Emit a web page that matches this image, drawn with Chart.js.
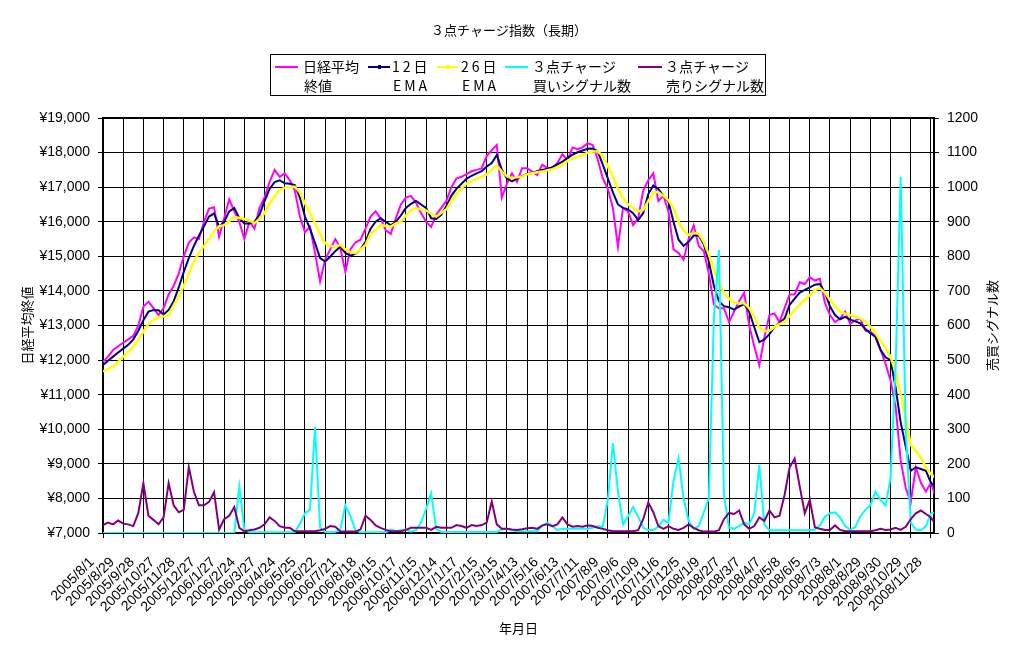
<!DOCTYPE html>
<html><head><meta charset="utf-8">
<script src="https://cdn.jsdelivr.net/npm/chart.js@4.4.1/dist/chart.umd.min.js"></script>
<style>html,body{margin:0;padding:0;background:#fff;}#wrap{width:1019px;height:655px;}</style>
</head><body><div id="wrap"><canvas id="c" width="1019" height="655"></canvas></div>
<script>
const chartTitle = '３点チャージ指数（長期）';
const leftAxisTitle = '日経平均終値';
const rightAxisTitle = '売買シグナル数';
const xAxisTitle = '年月日';
const seriesNames = [['日経平均','終値'],['12日','EMA'],['26日','EMA'],['３点チャージ','買いシグナル数'],['３点チャージ','売りシグナル数']];
const dateLabels = ['2005/8/1','2005/8/29','2005/9/28','2005/10/27','2005/11/28','2005/12/27','2006/1/27','2006/2/24','2006/3/27','2006/4/24','2006/5/25','2006/6/22','2006/7/21','2006/8/18','2006/9/15','2006/10/17','2006/11/15','2006/12/14','2007/1/17','2007/2/15','2007/3/15','2007/4/13','2007/5/16','2007/6/13','2007/7/11','2007/8/9','2007/9/6','2007/10/9','2007/11/6','2007/12/5','2008/1/9','2008/2/7','2008/3/7','2008/4/7','2008/5/8','2008/6/5','2008/7/3','2008/8/1','2008/8/29','2008/9/30','2008/10/29','2008/11/28'];
const LABEL_EVERY = 20;   // trading days between date labels
const STEP = 5;           // trading days between stored samples
const LAST_DAY = 823;

const nikkei = [11950,12100,12290,12400,12500,12600,12700,13000,13545,13690,
 13500,13300,13500,13900,14150,14500,15000,15400,15550,15500,
 16000,16380,16420,15570,16100,16650,16300,16000,15500,16000,
 15800,16400,16700,17150,17500,17300,17400,17200,16900,16150,
 15700,15850,15100,14270,14900,15200,15500,15250,14550,15200,
 15400,15480,15800,16150,16300,16100,15750,15650,16100,16500,
 16700,16750,16550,16250,16000,15850,16200,16400,16600,17000,
 17250,17300,17380,17460,17500,17540,17900,18070,18220,16700,
 17100,17400,17150,17550,17550,17450,17350,17650,17550,17550,
 17700,17950,17780,18150,18100,18150,18270,18220,17800,17250,
 16950,16400,15280,16400,16300,15900,16100,16900,17200,17400,
 16600,16750,16300,15200,15100,14900,15500,15900,15300,15150,
 14500,13600,13500,13500,13100,13400,13700,13950,13000,12400,
 11850,12650,13300,13350,13100,13500,13900,13900,14250,14200,
 14400,14300,14350,13650,13300,13100,13200,13400,13050,13150,
 13200,12850,12820,12700,12300,11900,11400,10650,9100,8300,
 7900,8900,8450,8200,8450,8000];
const ema12 = [11860,11980,12100,12220,12330,12440,12600,12850,13150,13400,
 13450,13440,13320,13450,13700,14100,14550,14950,15300,15600,
 15870,16150,16240,15850,16000,16300,16400,16100,15950,15950,
 16000,16200,16600,16950,17150,17200,17110,17100,17060,16700,
 16150,15800,15380,14950,14850,14990,15150,15280,15100,15020,
 15070,15200,15420,15800,16000,16100,16000,15900,16000,16180,
 16400,16520,16600,16500,16400,16100,16080,16200,16450,16750,
 16950,17100,17240,17330,17400,17460,17600,17700,17930,17500,
 17250,17170,17250,17320,17380,17410,17460,17500,17530,17580,
 17660,17740,17840,17940,18010,18060,18110,18120,18030,17650,
 17250,16850,16500,16400,16360,16250,16050,16250,16800,17050,
 16950,16750,16580,16000,15480,15300,15420,15600,15600,15350,
 14850,14150,13700,13560,13530,13460,13550,13620,13400,12950,
 12520,12600,12750,12950,13080,13200,13600,13780,13950,14030,
 14100,14180,14200,13950,13550,13300,13180,13250,13170,13120,
 13060,12900,12780,12670,12300,12080,12000,11200,10200,9500,
 8800,8900,8850,8800,8450,8320];
const ema26 = [11670,11740,11810,11950,12100,12240,12390,12600,12820,13050,
 13160,13240,13260,13300,13580,13850,14150,14500,14840,15100,
 15300,15500,15720,15870,15900,16020,16140,16110,16080,16030,
 15960,16080,16250,16530,16750,16920,16980,17015,17015,16850,
 16535,16250,15956,15650,15378,15300,15280,15330,15200,15120,
 15089,15200,15330,15667,15760,15907,15880,15858,15950,16003,
 16180,16330,16390,16360,16330,16230,16148,16250,16360,16600,
 16800,16970,17100,17180,17230,17300,17370,17500,17620,17450,
 17320,17258,17290,17305,17370,17402,17430,17450,17490,17520,
 17580,17650,17760,17830,17880,17930,18000,18028,18028,17900,
 17600,17300,16950,16700,16500,16400,16300,16341,16600,16850,
 16850,16750,16620,16400,16000,15750,15618,15680,15650,15420,
 15050,14620,14200,13950,13780,13660,13643,13643,13500,13250,
 12930,12840,12850,12960,13040,13110,13280,13449,13600,13738,
 13880,14028,14080,13950,13738,13550,13400,13340,13304,13250,
 13208,13100,12966,12780,12560,12350,12090,11650,11000,10300,
 9550,9380,9180,8900,8700,8580];
const buySignals = [0,0,0,0,0,0,0,0,0,0,
 0,0,0,0,0,0,0,0,0,0,
 0,0,0,0,0,0,0,134,10,2,
 2,2,2,2,2,2,2,2,2,27,
 57,67,307,15,3,3,3,10,80,50,
 8,2,2,2,2,2,2,10,5,8,
 10,4,8,30,70,115,12,3,3,3,
 3,3,3,3,3,3,3,3,3,10,
 12,8,5,5,5,5,5,20,30,20,
 9,12,12,12,12,12,12,15,20,18,
 96,259,120,25,48,75,48,15,9,9,
 18,38,30,150,216,100,35,12,20,60,
 100,620,818,110,15,12,20,30,25,57,
 197,25,8,8,8,8,8,8,8,8,
 8,10,22,48,57,60,45,20,9,17,
 48,67,80,120,96,80,160,480,1030,300,
 30,10,8,20,57,60];
const sellSignals = [23,30,25,36,27,25,20,58,144,50,
 38,25,45,144,80,60,67,190,120,80,
 80,90,118,10,40,50,75,15,5,8,
 10,15,25,45,35,20,15,15,5,5,
 5,5,5,8,12,20,18,5,4,4,
 4,10,50,38,22,15,9,5,5,5,
 9,15,15,15,15,9,18,15,15,15,
 23,20,15,23,20,23,30,91,25,12,
 12,10,9,11,14,15,12,22,25,20,
 25,45,25,18,20,18,22,20,15,12,
 8,5,5,5,5,5,8,40,88,60,
 20,12,20,12,9,15,25,15,8,4,
 4,4,8,40,58,55,65,25,12,20,
 45,35,65,45,50,110,190,215,135,57,
 96,17,12,9,9,22,9,5,5,5,
 5,5,5,8,12,9,10,15,9,18,
 40,57,65,55,45,22];

const colors = ['#FF00FF','#000080','#FFFF00','#00FFFF','#800080'];
const JP = "'Noto Sans CJK JP', sans-serif";
const NUM = "'Liberation Sans', 'Noto Sans CJK JP', sans-serif";

function toPts(arr){ return arr.map((v,i)=>({x:i*STEP, y:v})); }

const headerPlugin = {
  id:'header',
  afterDraw(chart){
    const ctx = chart.ctx;
    ctx.save();
    const a = chart.chartArea;
    ctx.strokeStyle='#000'; ctx.lineWidth=2;
    ctx.beginPath(); ctx.moveTo(a.left-1,a.top); ctx.lineTo(a.right+1,a.top); ctx.stroke();
    ctx.fillStyle='#000'; ctx.textAlign='center'; ctx.textBaseline='middle';
    ctx.font = '13px ' + JP;
    ctx.fillText(chartTitle, 509, 30);
    ctx.save();
    ctx.translate(992, (a.top + a.bottom) / 2);
    ctx.rotate(-Math.PI / 2);
    ctx.fillText(rightAxisTitle, 0, 0);
    ctx.restore();
    ctx.lineWidth=1; ctx.strokeStyle='#000';
    ctx.strokeRect(270.5, 54.5, 495, 41);
    const ent = [[275,298,303],[368,390,392],[437,458,461],[505,528,532],[638,662,665]];
    ctx.font = '14px ' + JP; ctx.textAlign='left';
    ent.forEach((e,k)=>{
      ctx.strokeStyle = colors[k]; ctx.lineWidth = 2;
      ctx.beginPath(); ctx.moveTo(e[0],67); ctx.lineTo(e[1],67); ctx.stroke();
      if (k===1 || k===2){ ctx.fillStyle=colors[k]; ctx.fillRect((e[0]+e[1])/2-1,65,3,4); }
      ctx.fillStyle='#000';
      ctx.letterSpacing = (k===1 || k===2) ? '3px' : '0px';
      ctx.fillText(seriesNames[k][0], e[2], 67);
      ctx.fillText(seriesNames[k][1], e[2]+1, 86);
    });
    ctx.letterSpacing = '0px';
    ctx.restore();
  }
};

const mk = (label, data, k, axis, order, w) => ({
  label, data: toPts(data), yAxisID: axis, borderColor: colors[k], backgroundColor: colors[k],
  borderWidth: w, pointRadius: 0, tension: 0, fill: false, order
});

new Chart(document.getElementById('c'), {
  type: 'line',
  data: { datasets: [
    mk(seriesNames[0].join(''), nikkei, 0, 'y', 5, 2),
    mk(seriesNames[1].join(''), ema12, 1, 'y', 4, 2),
    mk(seriesNames[2].join(''), ema26, 2, 'y', 3, 2.5),
    mk(seriesNames[3].join(''), buySignals, 3, 'y2', 2, 2),
    mk(seriesNames[4].join(''), sellSignals, 4, 'y2', 1, 2)
  ]},
  options: {
    responsive: false, animation: false, devicePixelRatio: 1,
    layout: { padding: { top: 118, left: 0, right: 0, bottom: 0 } },
    plugins: { legend: { display: false }, tooltip: { enabled: false }, title: { display: false } },
    scales: {
      x: {
        type: 'linear', min: 0, max: LAST_DAY,
        afterFit: s => { s.height = 122; },
        border: { display: true, color: '#000', width: 2 },
        grid: { color: '#000', lineWidth: 1, drawTicks: true, tickLength: 5 },
        ticks: { stepSize: LABEL_EVERY, autoSkip: false, includeBounds: false, maxRotation: 45, minRotation: 45,
          color: '#000', padding: 16, labelOffset: -11, font: { family: NUM, size: 14 },
          callback: v => { const i = Math.round(v / LABEL_EVERY); return (v % LABEL_EVERY === 0 && dateLabels[i]) ? dateLabels[i] : ''; } },
        title: { display: true, text: xAxisTitle, color: '#000', font: { family: JP, size: 13 }, padding: { top: 0, bottom: 19 } }
      },
      y: {
        position: 'left', min: 7000, max: 19000,
        afterFit: s => { s.width = 103; },
        border: { display: true, color: '#000', width: 2 },
        grid: { color: '#000', lineWidth: 1, drawTicks: true, tickLength: 5 },
        ticks: { stepSize: 1000, color: '#000', padding: 8, font: { family: NUM, size: 14 },
          callback: v => '¥' + v.toLocaleString('en-US') },
        title: { display: true, text: leftAxisTitle, color: '#000', font: { family: JP, size: 13 }, padding: { top: 19, bottom: 0 } }
      },
      y2: {
        position: 'right', min: 0, max: 1200,
        afterFit: s => { s.width = 85; },
        border: { display: true, color: '#000', width: 2 },
        grid: { drawOnChartArea: false, color: '#000', drawTicks: true, tickLength: 5 },
        ticks: { stepSize: 100, color: '#000', padding: 8, font: { family: NUM, size: 14 },
          callback: v => String(v) },
        title: { display: false }
      }
    }
  },
  plugins: [headerPlugin]
});
</script></body></html>
